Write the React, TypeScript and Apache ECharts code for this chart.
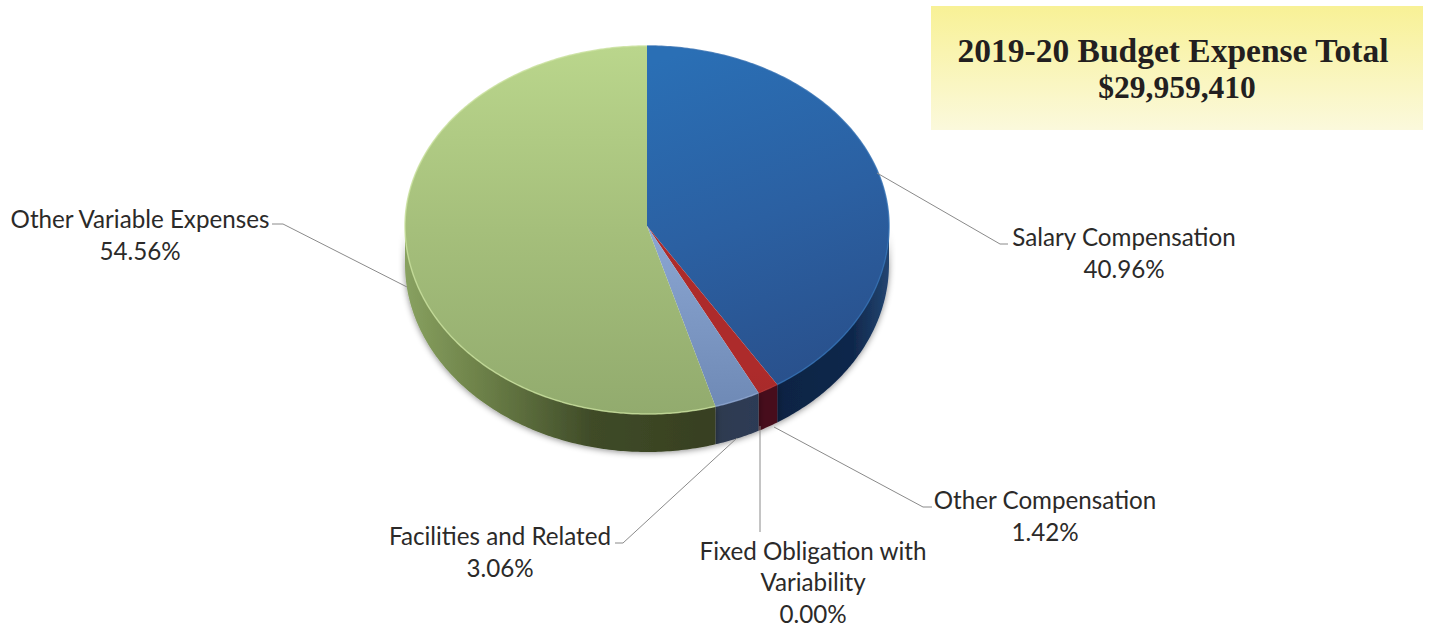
import React, { useEffect, useRef } from "react";
import * as echarts from "echarts";

const categories = ["Salary Compensation", "Other Compensation", "Fixed Obligation with\nVariability", "Facilities and Related", "Other Variable Expenses"];
const percents = [40.96, 1.42, 0.0, 3.06, 54.56];
const titleLines = ["2019-20 Budget Expense Total", "$29,959,410"];

const CX = 647, CY = 226, RX = 242, RY_TOP = 180, RY_BOTTOM = 188, DEPTH = 38;
const total = percents.reduce((a, b) => a + b, 0);
const starts = percents.map((_, i) => percents.slice(0, i).reduce((a, b) => a + b, 0));
const toAngle = (p: number) => (p / total) * 2 * Math.PI;

const pt = (t: number, dy = 0): number[] => {
  const c = Math.cos(t);
  return [CX + RX * Math.sin(t), CY - c * (c > 0 ? RY_TOP : RY_BOTTOM) + dy];
};
const arc = (a: number, b: number, dy = 0) => {
  const n = Math.max(2, Math.ceil(Math.abs(b - a) / 0.012));
  const out: number[][] = [];
  for (let i = 0; i <= n; i++) out.push(pt(a + ((b - a) * i) / n, dy));
  return out;
};
const LG = (x0: number, y0: number, x1: number, y1: number, stops: [number, string][]) =>
  new echarts.graphic.LinearGradient(x0, y0, x1, y1, stops.map(([offset, color]) => ({ offset, color })), true);

const topFills = [
  LG(700, 46, 820, 390, [[0, "#2a6fb5"], [0.5, "#2b60a2"], [1, "#294f8a"]]),
  LG(0, 370, 0, 395, [[0, "#ad2b2b"], [1, "#a82a2a"]]),
  LG(0, 0, 0, 1, [[0, "#888"], [1, "#888"]]),
  LG(0, 230, 0, 405, [[0, "#8ba6d2"], [1, "#6f8ab6"]]),
  LG(0, 46, 0, 414, [[0, "#bad68c"], [0.5, "#a5bf7b"], [1, "#92ab6e"]]),
];
const sideFills = [
  LG(770, 0, 889, 0, [[0, "#0d2342"], [0.7, "#10284c"], [1, "#234571"]]),
  LG(0, 0, 0, 1, [[0, "#47101a"], [1, "#47101a"]]),
  LG(0, 0, 0, 1, [[0, "#888"], [1, "#888"]]),
  LG(717, 0, 762, 0, [[0, "#2f3a50"], [1, "#2c3a55"]]),
  LG(405, 0, 717, 0, [[0, "#88a160"], [0.25, "#6c8048"], [0.6, "#3f4b28"], [1, "#373f20"]]),
];
const rimColors = ["#2f6db0", "#b03030", "#888", "#8ba4cf", "#c8e09c"];

const labelLayout = [
  { cx: 1124, ys: [236, 268], line: [[877, 173], [1000, 244], [1008, 244]] },
  { cx: 1045, ys: [499, 531], line: [[774, 427], [923, 507], [932, 507]] },
  { cx: 813, ys: [550, 581, 613], line: [[760, 426], [760, 532]] },
  { cx: 500, ys: [535, 567], line: [[737, 438], [623, 543], [615, 543]] },
  { cx: 140, ys: [218, 250], line: [[407, 287], [283, 224], [272, 224]] },
];
const titleLayout = [
  { x: 1173, y: 50, size: 33.5 },
  { x: 1177, y: 87, size: 31.5 },
];

const FONT = "Lato";

export default function App() {
  const ref = useRef<HTMLDivElement>(null);
  useEffect(() => {
    document.body.style.margin = "0";
    const chart = echarts.init(ref.current!, undefined, { renderer: "svg" });
    const graphics: any[] = [
      {
        type: "rect",
        z: 1,
        shape: { x: 931, y: 6, width: 492, height: 124 },
        style: { fill: LG(0, 6, 0, 130, [[0, "#f8f196"], [1, "#fbf9dc"]]) },
      },
    ];
    titleLines.forEach((t, i) =>
      graphics.push({
        type: "text",
        z: 5,
        x: titleLayout[i].x,
        y: titleLayout[i].y,
        style: {
          text: t,
          align: "center",
          verticalAlign: "middle",
          fill: "#231f20",
          font: `bold ${titleLayout[i].size}px "Liberation Serif"`,
        },
      })
    );
    labelLayout.forEach((l, i) => {
      graphics.push({
        type: "polyline",
        z: 6,
        shape: { points: l.line },
        style: { stroke: "#8a8a8a", lineWidth: 1, fill: "none" },
      });
      const lines = [...categories[i].split("\n"), percents[i].toFixed(2) + "%"];
      lines.forEach((t, j) =>
        graphics.push({
          type: "text",
          z: 5,
          x: l.cx,
          y: l.ys[j],
          style: {
            text: t,
            align: "center",
            verticalAlign: "middle",
            fill: "#2b2a29",
            font: `24.2px "${FONT}"`,
          },
        })
      );
    });

    const data = categories.map((name, i) => ({ name: name.replace("\n", " "), value: percents[i] }));
    chart.setOption({
      animation: false,
      backgroundColor: "#ffffff",
      graphic: graphics,
      series: [
        {
          type: "custom",
          coordinateSystem: "none",
          z: 2,
          silent: true,
          data,
          renderItem: (params: any, api: any) => {
            const i = params.dataIndex;
            const v = api.value(0);
            if (!v) return { type: "group", children: [] };
            const a = Math.max(toAngle(starts[i]), Math.PI / 2);
            const b = Math.min(toAngle(starts[i] + v), (3 * Math.PI) / 2);
            if (b <= a) return { type: "group", children: [] };
            const points = [...arc(a, b), ...arc(b, a, DEPTH)];
            return {
              type: "polygon",
              shape: { points },
              style: { fill: sideFills[i], shadowBlur: 6, shadowColor: "rgba(0,0,0,0.45)", shadowOffsetY: 1 },
            };
          },
        },
        {
          type: "custom",
          coordinateSystem: "none",
          z: 3,
          silent: true,
          data,
          renderItem: (params: any, api: any) => {
            const i = params.dataIndex;
            const v = api.value(0);
            if (!v) return { type: "group", children: [] };
            const a = toAngle(starts[i]);
            const b = toAngle(starts[i] + v);
            const outer = arc(a, b);
            return {
              type: "group",
              children: [
                { type: "polygon", shape: { points: [[CX, CY], ...outer] }, style: { fill: topFills[i] } },
                { type: "polyline", shape: { points: outer }, style: { stroke: rimColors[i], lineWidth: 1.5, fill: "none", opacity: 0.8 } },
              ],
            };
          },
        },
      ],
    });
    return () => chart.dispose();
  }, []);
  return <div ref={ref} style={{ width: 1432, height: 627, overflow: "hidden" }} />;
}
